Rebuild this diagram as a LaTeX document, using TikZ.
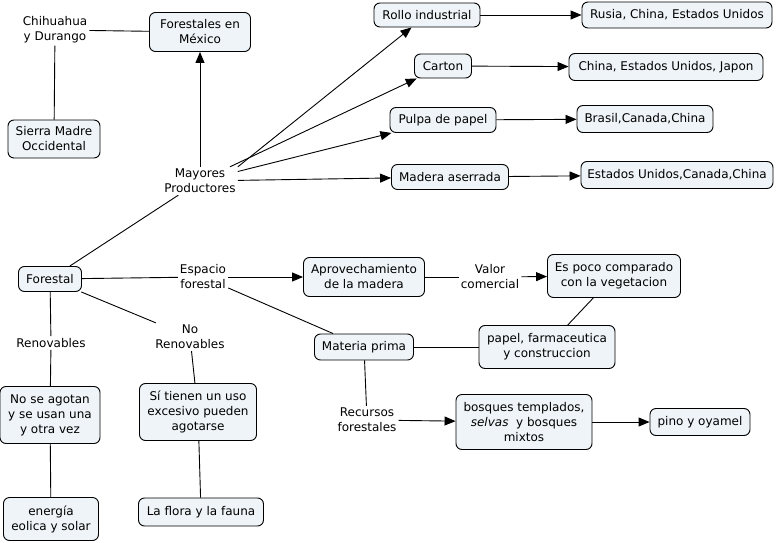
\documentclass[tikz,border=0pt]{standalone}
\usepackage{fontspec}
\setmainfont{DejaVu Sans}
\usetikzlibrary{arrows.meta}
\definecolor{boxfill}{RGB}{238,244,247}
\tikzset{
  box/.style 2 args={draw, line width=0.9pt, rounded corners=6pt, fill=boxfill, align=center, inner sep=1pt, minimum width=#1, minimum height=#2, font=\fontsize{12}{15}\selectfont},
  lab/.style={align=center, inner sep=2pt, font=\fontsize{12}{15}\selectfont},
  ln/.style={draw, line width=0.9pt},
  arr/.style={ln, -{Triangle[length=11pt,width=9pt]}}
}
\begin{document}
\begin{tikzpicture}[x=1pt,y=-1pt]
\useasboundingbox (0,0) rectangle (779,543);
% nodes
\node[box={101pt}{39pt}] (fm) at (200,32) {Forestales en\\México};
\node[lab] (chi) at (55,30) {Chihuahua\\y Durango};
\node[box={92pt}{38pt}] (smo) at (54,139) {Sierra Madre\\Occidental};
\node[lab] (may) at (200,181) {Mayores\\Productores};
\node[box={106pt}{24pt}] (rol) at (427,15) {Rollo industrial};
\node[box={190pt}{26pt}] (rus) at (677,15) {Rusia, China, Estados Unidos};
\node[box={57pt}{24pt}] (car) at (443,66) {Carton};
\node[box={194pt}{27pt}] (chj) at (666,67) {China, Estados Unidos, Japon};
\node[box={106pt}{25pt}] (pul) at (443,120) {Pulpa de papel};
\node[box={136pt}{27pt}] (bra) at (645,119) {Brasil,Canada,China};
\node[box={117pt}{25pt}] (mad) at (450,177) {Madera aserrada};
\node[box={192pt}{27pt}] (euc) at (677,175) {Estados Unidos,Canada,China};
\node[box={63pt}{25pt}] (for) at (50,279) {Forestal};
\node[lab] (esp) at (203,277) {Espacio\\forestal};
\node[box={121pt}{39pt}] (apr) at (364,277) {Aprovechamiento\\de la madera};
\node[lab] (val) at (490,277) {Valor\\comercial};
\node[box={133pt}{43pt}] (esc) at (614,276) {Es poco comparado\\con la vegetacion};
\node[box={136pt}{43pt}] (pap) at (547,347) {papel, farmaceutica\\y construccion};
\node[box={99pt}{26pt}] (mat) at (364,347) {Materia prima};
\node[lab] (rec) at (367,420) {Recursos\\forestales};
\node[box={136pt}{55pt}] (bos) at (524,422) {bosques templados,\\\textit{selvas}\ \ y bosques\\mixtos};
\node[box={100pt}{27pt}] (pin) at (700,422) {pino y oyamel};
\node[lab] (ren) at (51,343) {Renovables};
\node[lab] (nre) at (190,337) {No\\Renovables};
\node[box={100pt}{57pt}] (nsa) at (50,415) {No se agotan\\y se usan una\\y otra vez};
\node[box={117pt}{57pt}] (sit) at (198,412) {Sí tienen un uso\\excesivo pueden\\agotarse};
\node[box={95pt}{43pt}] (ene) at (51,519) {energía\\eolica y solar};
\node[box={125pt}{28pt}] (flo) at (201,512) {La flora y la fauna};
% connectors
\draw[ln] (chi) -- (fm);
\draw[ln] (chi) -- (smo);
\draw[arr] (may) -- (fm);
\draw[arr] (may.north east) -- (rol);
\draw[arr] (may) -- (car);
\draw[arr] (may) -- (pul);
\draw[arr] (may) -- (mad);
\draw[ln] (for) -- (may);
\draw[arr] (rol) -- (rus);
\draw[arr] (car) -- (chj);
\draw[arr] (pul) -- (bra);
\draw[arr] (mad) -- (euc);
\draw[ln] (for) -- (esp);
\draw[arr] (esp) -- (apr);
\draw[ln] (esp) -- (mat);
\draw[ln] (apr) -- (val);
\draw[arr] (val) -- (esc);
\draw[ln] (esc) -- (pap);
\draw[ln] (mat) -- (pap);
\draw[ln] (mat) -- (rec);
\draw[arr] (rec) -- (bos);
\draw[arr] (bos) -- (pin);
\draw[ln] (for) -- (ren);
\draw[ln] (ren) -- (nsa);
\draw[ln] (for) -- (nre);
\draw[ln] (nre) -- (sit);
\draw[ln] (nsa) -- (ene);
\draw[ln] (sit) -- (flo);
\end{tikzpicture}
\end{document}
